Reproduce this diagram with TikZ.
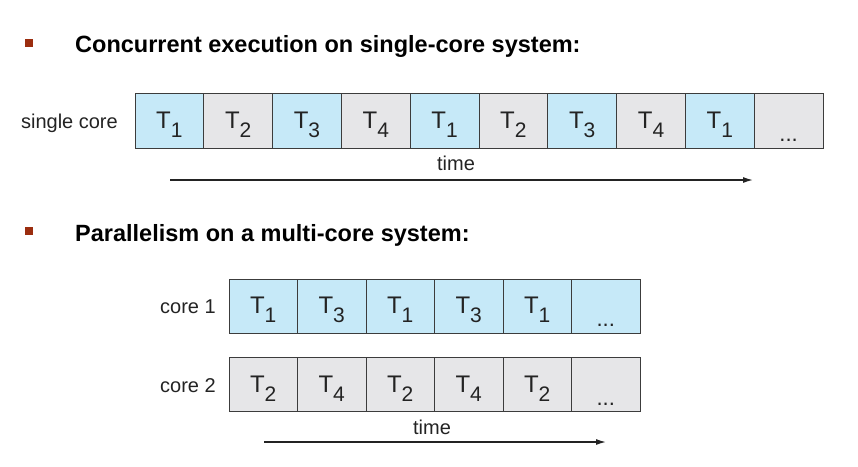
\documentclass[tikz,border=0pt]{standalone}
\usepackage{fontspec}
\setmainfont{Liberation Sans}
\usetikzlibrary{arrows.meta,positioning,calc}
\definecolor{ink}{RGB}{35,35,35}
\definecolor{edge}{RGB}{60,60,60}
\definecolor{tblue}{RGB}{198,233,248}
\definecolor{tgray}{RGB}{230,230,232}
\definecolor{mark}{RGB}{155,45,15}
\newcommand{\tsk}[1]{T\raisebox{-9pt}{\fontsize{21}{21}\selectfont #1}}
\newcommand{\more}{\raisebox{-13pt}{\fontsize{22}{22}\selectfont ...}}

\begin{document}
\begin{tikzpicture}[
    x=1pt,y=-1pt,
    >={Latex[length=10pt,width=6pt]},
    text=ink,
    every node/.style={font=\fontsize{20}{24}\selectfont},
    cell/.style={
        draw=edge,
        line width=1pt,
        minimum width=68.8pt,
        minimum height=55pt,
        inner sep=0pt,
        outer sep=0pt,
        text height=22pt,
        text depth=7pt,
        font=\fontsize{24}{24}\selectfont
    },
    bluecell/.style={cell, fill=tblue},
    graycell/.style={cell, fill=tgray},
    small/.style={minimum width=68.5pt, minimum height=54pt},
    head/.style={font=\fontsize{23.5}{28}\selectfont\bfseries, text=black, anchor=base west, inner sep=0pt},
    bullet/.style={fill=mark, minimum size=8pt, inner sep=0pt},
    lbl/.style={anchor=base east, inner sep=0pt},
    arr/.style={->, line width=1.3pt, draw=ink}
]
\useasboundingbox (0,0) rectangle (858,466);

% Heading 1
\node[bullet] (dot1) at (29,42.5) {};
\node[head] (head1) at (75,52) {Concurrent execution on single-core system:};

% Single core row
\node[bluecell] (s1) at (169.4,120.5) {\tsk{1}};
\node[graycell, right=0pt of s1] (s2) {\tsk{2}};
\node[bluecell, right=0pt of s2] (s3) {\tsk{3}};
\node[graycell, right=0pt of s3] (s4) {\tsk{4}};
\node[bluecell, right=0pt of s4] (s5) {\tsk{1}};
\node[graycell, right=0pt of s5] (s6) {\tsk{2}};
\node[bluecell, right=0pt of s6] (s7) {\tsk{3}};
\node[graycell, right=0pt of s7] (s8) {\tsk{4}};
\node[bluecell, right=0pt of s8] (s9) {\tsk{1}};
\node[graycell, right=0pt of s9] (s10) {\more};
\node[lbl] (single) at ($(s1.base west)+(-17,0)$) {single core};

% Time axis 1
\node (time1) at (456,163) {time};
\coordinate (tstart1) at (170,180);
\coordinate (tend1) at (753,180);
\draw[arr] (tstart1) -- (tend1);

% Heading 2
\node[bullet] (dot2) at (29,231) {};
\node[head] (head2) at (75,241) {Parallelism on a multi-core system:};

% Core 1 row
\node[bluecell, small] (a1) at (263.25,306) {\tsk{1}};
\node[bluecell, small, right=0pt of a1] (a2) {\tsk{3}};
\node[bluecell, small, right=0pt of a2] (a3) {\tsk{1}};
\node[bluecell, small, right=0pt of a3] (a4) {\tsk{3}};
\node[bluecell, small, right=0pt of a4] (a5) {\tsk{1}};
\node[bluecell, small, right=0pt of a5] (a6) {\more};
\node[lbl] (core1) at ($(a1.base west)+(-13,0)$) {core 1};

% Core 2 row
\node[graycell, small] (b1) at (263.25,384.5) {\tsk{2}};
\node[graycell, small, right=0pt of b1] (b2) {\tsk{4}};
\node[graycell, small, right=0pt of b2] (b3) {\tsk{2}};
\node[graycell, small, right=0pt of b3] (b4) {\tsk{4}};
\node[graycell, small, right=0pt of b4] (b5) {\tsk{2}};
\node[graycell, small, right=0pt of b5] (b6) {\more};
\node[lbl] (core2) at ($(b1.base west)+(-13,0)$) {core 2};

% Time axis 2
\node (time2) at (432,427) {time};
\coordinate (tstart2) at (264,442);
\coordinate (tend2) at (606,442);
\draw[arr] (tstart2) -- (tend2);

\end{tikzpicture}
\end{document}
